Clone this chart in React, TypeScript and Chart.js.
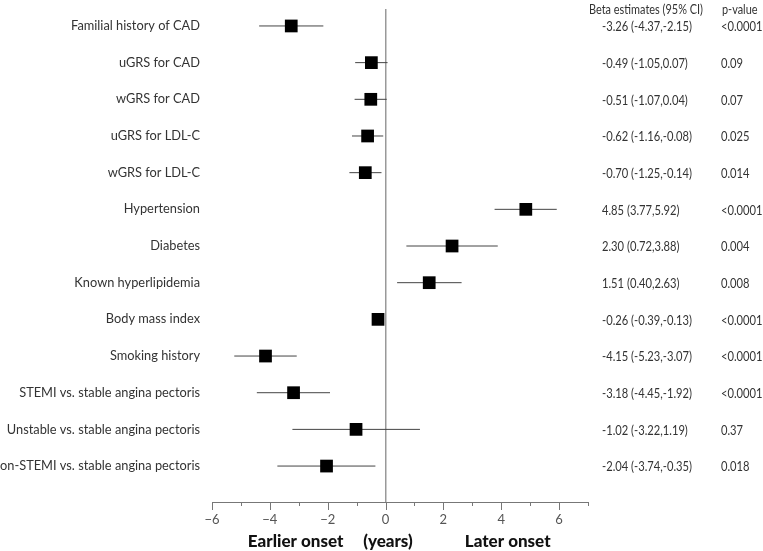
import React, { useEffect, useRef } from "react";
import { Chart, registerables } from "chart.js";

Chart.register(...registerables);

const labels = [
  "Familial history of CAD",
  "uGRS for CAD",
  "wGRS for CAD",
  "uGRS for LDL-C",
  "wGRS for LDL-C",
  "Hypertension",
  "Diabetes",
  "Known hyperlipidemia",
  "Body mass index",
  "Smoking history",
  "STEMI vs. stable angina pectoris",
  "Unstable vs. stable angina pectoris",
  "non-STEMI vs. stable angina pectoris",
];
const beta = [-3.26, -0.49, -0.51, -0.62, -0.7, 4.85, 2.3, 1.51, -0.26, -4.15, -3.18, -1.02, -2.04];
const ciLow = [-4.37, -1.05, -1.07, -1.16, -1.25, 3.77, 0.72, 0.4, -0.39, -5.23, -4.45, -3.22, -3.74];
const ciHigh = [-2.15, 0.07, 0.04, -0.08, -0.14, 5.92, 3.88, 2.63, -0.13, -3.07, -1.92, 1.19, -0.35];
const pValues = ["<0.0001", "0.09", "0.07", "0.025", "0.014", "<0.0001", "0.004", "0.008", "<0.0001", "<0.0001", "<0.0001", "0.37", "0.018"];
const xTickLabels = ["\u22126", "\u22124", "\u22122", "0", "2", "4", "6"];
const xTickValues = [-6, -4, -2, 0, 2, 4, 6];
const headerBeta = "Beta estimates (95% CI)";
const headerP = "p-value";
const footerLeft = "Earlier onset";
const footerMid = "(years)";
const footerRight = "Later onset";

const FONT = "Lato, 'Open Sans', sans-serif";

const fmt = (v: number) => v.toFixed(2);

export default function App() {
  const ref = useRef<HTMLCanvasElement | null>(null);

  useEffect(() => {
    if (!ref.current) return;

    const whiskers: any[] = [];
    labels.forEach((_, i) => {
      whiskers.push({ x: ciLow[i], y: i });
      whiskers.push({ x: ciHigh[i], y: i });
      whiskers.push({ x: NaN, y: NaN });
    });

    const squeezed = (ctx: any, text: string, x: number, y: number, ratio: number) => {
      ctx.save();
      ctx.translate(x, y);
      ctx.scale(ratio, 1);
      ctx.fillText(text, 0, 0);
      ctx.restore();
    };

    const textPlugin = {
      id: "forestText",
      afterDraw(chart: any) {
        const { ctx, chartArea, scales } = chart;
        const xs = scales.x;
        const ys = scales.y;
        ctx.save();
        // custom tick marks
        ctx.strokeStyle = "#777";
        ctx.lineWidth = 1;
        xs.ticks.forEach((t: any) => {
          const px = Math.round(xs.getPixelForValue(t.value)) + 0.5;
          const len = xTickValues.includes(t.value) ? 8 : 4;
          ctx.beginPath();
          ctx.moveTo(px, chartArea.bottom);
          ctx.lineTo(px, chartArea.bottom + len);
          ctx.stroke();
        });
        // right columns
        const colBeta = chartArea.right + 14;
        const colP = chartArea.right + 133;
        ctx.fillStyle = "#333";
        ctx.font = `13.5px ${FONT}`;
        ctx.textBaseline = "middle";
        ctx.textAlign = "left";
        const rHead = 114 / ctx.measureText(headerBeta).width;
        const rRow = 90 / ctx.measureText("-3.26 (-4.37,-2.15)").width;
        squeezed(ctx, headerBeta, chartArea.right + 1, chartArea.top + 1, rHead);
        squeezed(ctx, headerP, colP + 1, chartArea.top + 1, rHead);
        labels.forEach((_, i) => {
          const py = ys.getPixelForValue(i) + 1;
          squeezed(ctx, `${fmt(beta[i])} (${fmt(ciLow[i])},${fmt(ciHigh[i])})`, colBeta, py, rRow);
          squeezed(ctx, pValues[i], colP, py, rRow);
        });
        // footer
        ctx.fillStyle = "#111";
        ctx.font = `900 17px ${FONT}`;
        const fy = chartArea.bottom + 40;
        ctx.textAlign = "left";
        ctx.fillText(footerLeft, xs.getPixelForValue(-4.76), fy);
        ctx.textAlign = "right";
        ctx.fillText(footerMid, xs.getPixelForValue(0.94), fy);
        ctx.textAlign = "left";
        ctx.fillText(footerRight, xs.getPixelForValue(2.74), fy);
        ctx.restore();
      },
    };

    const chart = new Chart(ref.current, {
      type: "scatter",
      data: {
        datasets: [
          {
            type: "line",
            data: whiskers,
            borderColor: "#444",
            borderWidth: 1,
            pointRadius: 0,
            spanGaps: false,
            order: 2,
          } as any,
          {
            type: "scatter",
            data: labels.map((_, i) => ({ x: beta[i], y: i })),
            pointStyle: "rect",
            pointRadius: 9,
            backgroundColor: "#000",
            borderColor: "#000",
            borderWidth: 0,
            order: 1,
          } as any,
        ],
      },
      options: {
        animation: false,
        responsive: false,
        maintainAspectRatio: false,
        layout: { padding: { top: 8, right: 175, bottom: 0, left: 0 } },
        plugins: {
          legend: { display: false },
          tooltip: { enabled: false },
        },
        scales: {
          x: {
            type: "linear",
            min: -6,
            max: 7,
            ticks: {
              stepSize: 1,
              padding: 10,
              color: "#555",
              font: { family: FONT, size: 13 },
              callback: (v: any) => {
                const idx = xTickValues.indexOf(Number(v));
                return idx >= 0 ? xTickLabels[idx] : "";
              },
              autoSkip: false,
              maxRotation: 0,
            },
            grid: {
              drawTicks: false,
              color: (c: any) => (c.tick && c.tick.value === 0 ? "#999" : "rgba(0,0,0,0)"),
              lineWidth: 1.5,
            },
            border: { display: true, color: "#777", width: 1 },
            afterFit: (s: any) => {
              s.height = 49;
              s.paddingLeft = 0;
              s.paddingRight = 0;
            },
          },
          y: {
            type: "linear",
            reverse: true,
            min: -0.4626,
            max: 12.98,
            afterBuildTicks: (s: any) => {
              s.ticks = labels.map((_, i) => ({ value: i }));
            },
            ticks: {
              autoSkip: false,
              padding: 12,
              color: "#333",
              font: { family: FONT, size: 12.8 },
              callback: (v: any) => labels[Number(v)] ?? "",
            },
            grid: { display: false, drawTicks: false },
            border: { display: false },
            afterFit: (s: any) => {
              s.width = 212;
              s.paddingTop = 0;
              s.paddingBottom = 0;
            },
          },
        },
      },
      plugins: [textPlugin],
    });

    return () => chart.destroy();
  }, []);

  return (
    <div style={{ position: "fixed", left: 0, top: 0, width: 763, height: 551, background: "#fff" }}>
      <canvas ref={ref} width={763} height={551} style={{ width: 763, height: 551 }} />
    </div>
  );
}
